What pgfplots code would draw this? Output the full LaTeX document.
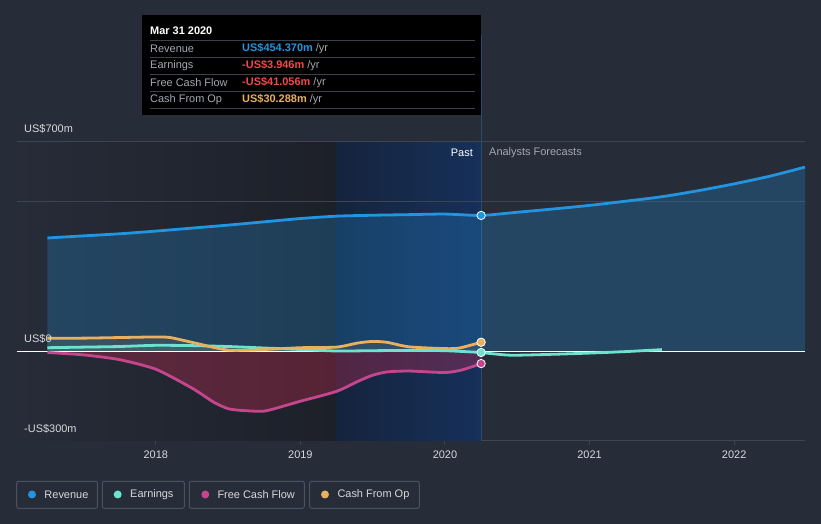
\documentclass[border=0pt]{standalone}
\usepackage{pgfplots}
\pgfplotsset{compat=1.18}
\usepackage{fontspec}
\setmainfont{Liberation Sans}
\definecolor{bg}{HTML}{262C38}
\definecolor{leftdark}{HTML}{1D2029}
\definecolor{pastA}{HTML}{15243D}
\definecolor{pastB}{HTML}{16305A}
\definecolor{rev}{HTML}{2394DF}
\definecolor{earn}{HTML}{6CE3CF}
\definecolor{fcf}{HTML}{C4478E}
\definecolor{cfo}{HTML}{E8B160}
\definecolor{neg}{HTML}{F04A4A}
\definecolor{gridc}{HTML}{3E4552}
\definecolor{txt}{HTML}{D6D8DC}
\definecolor{gtxt}{HTML}{A3A8B0}
\definecolor{boxc}{HTML}{4A5160}
\definecolor{vline}{HTML}{2B4A70}
\definecolor{sepc}{HTML}{3C4048}
\pgfplotstableread{
x y
2017.25 379
2017.5 386
2017.75 393
2018.0 402
2018.25 412
2018.5 422
2018.75 433
2019.0 444
2019.25 452
2019.5 455
2019.75 457
2020.0 459
2020.25 454.37
2020.5 465
2020.75 476
2021.0 488
2021.25 502
2021.5 517
2021.75 537
2022.0 560
2022.25 586
2022.49 616
}\rev
\pgfplotstableread{
x y
2017.25 12
2017.5 14
2017.75 16
2018.0 20
2018.25 19
2018.5 16
2018.75 11
2019.0 6
2019.25 1
2019.5 2
2019.75 3
2020.0 2
2020.25 -3.946
}\earnpast
\pgfplotstableread{
x y
2020.25 -3.946
2020.45 -13
2020.75 -10
2021.0 -6
2021.25 -1
2021.5 5.6
}\earnfut
\pgfplotstableread{
x y
2017.25 44
2017.5 44
2017.75 46
2018.0 48
2018.1 46
2018.25 30
2018.5 4
2018.75 6
2019.0 12
2019.25 14
2019.4 28
2019.5 33
2019.6 30
2019.75 15
2020.0 9
2020.1 11
2020.25 30.288
}\cfo
\pgfplotstableread{
x y
2017.25 -4
2017.5 -12
2017.75 -28
2018.0 -60
2018.25 -123
2018.4 -170
2018.5 -192
2018.6 -198
2018.75 -200
2018.9 -181
2019.0 -167
2019.25 -134
2019.4 -100
2019.5 -80
2019.6 -69
2019.75 -66
2020.0 -71
2020.12 -62
2020.25 -41.056
}\fcf
\begin{document}
\begin{tikzpicture}
\fill[bg] (0,0) rectangle (821bp,524bp);
\begin{axis}[at={(17bp,83bp)}, anchor=south west, scale only axis,
  width=788bp, height=299bp,
  xmin=2017.04, xmax=2022.49, ymin=-300, ymax=700,
  axis y line=none, axis x line*=bottom,
  x axis line style={gridc, line width=1bp, -},
  xtick={2018,2019,2020,2021,2022},
  xticklabels={2018,2019,2020,2021,2022},
  tick align=outside, major tick length=4bp,
  tick style={gridc, line width=1bp},
  x tick label style={font=\fontsize{11}{13}\selectfont, text=txt, yshift=-2bp},
  ytick=\empty, clip=false]
 \fill[left color=bg, right color=leftdark] (axis cs:2017.04,-300) rectangle (axis cs:2019.25,700);
 \fill[left color=pastA, right color=pastB] (axis cs:2019.25,-300) rectangle (axis cs:2020.25,700);
 \draw[gridc, line width=1bp] (axis cs:2017.04,700) -- (axis cs:2022.49,700);
 \draw[gridc, line width=1bp] (axis cs:2017.04,502) -- (axis cs:2022.49,502);
 \draw[vline, line width=1bp] (axis cs:2020.25,-300) -- (axis cs:2020.25,1057);
 \addplot[draw=none, fill=rev, fill opacity=0.26, smooth, tension=0.4] table {\rev} \closedcycle;
 \addplot[draw=none, fill=fcf!60!red, fill opacity=0.3, smooth, tension=0.4] table {\fcf} \closedcycle;
 \addplot[draw=none, fill=cfo, fill opacity=0.12, smooth, tension=0.4] table {\cfo} \closedcycle;
 \addplot[draw=none, fill=earn, fill opacity=0.12, smooth, tension=0.4] table {\earnpast} \closedcycle;
 \draw[white, line width=1.2bp] (axis cs:2017.04,0) -- (axis cs:2022.49,0);
 \addplot[rev, line width=2.8bp, smooth, tension=0.4] table {\rev};
 \addplot[earn, line width=2.8bp, smooth, tension=0.4] table {\earnpast};
 \addplot[earn, line width=2.8bp, smooth, tension=0.4] table {\earnfut};
 \addplot[cfo, line width=2.8bp, smooth, tension=0.4] table {\cfo};
 \addplot[fcf, line width=2.8bp, smooth, tension=0.4] table {\fcf};
 \addplot[only marks, mark=*, mark size=4.2bp, mark options={fill=rev, draw=white, line width=0.8bp}] coordinates {(2020.25,454.37)};
 \addplot[only marks, mark=*, mark size=4.2bp, mark options={fill=cfo, draw=white, line width=0.8bp}] coordinates {(2020.25,30.288)};
 \addplot[only marks, mark=*, mark size=4.2bp, mark options={fill=earn, draw=white, line width=0.8bp}] coordinates {(2020.25,-3.946)};
 \addplot[only marks, mark=*, mark size=4.2bp, mark options={fill=fcf, draw=white, line width=0.8bp}] coordinates {(2020.25,-41.056)};
\end{axis}
\begin{scope}[x=1bp, y=-1bp, yshift=524bp]
 \def\fs{\fontsize{11}{13}\selectfont}
 % y labels
 \node[anchor=west, inner sep=0, text=txt, font=\fs] at (24,129) {US\$700m};
 \node[anchor=west, inner sep=0, text=txt, font=\fs] at (24,339) {US\$0};
 \node[anchor=west, inner sep=0, text=txt, font=\fs] at (24,429) {-US\$300m};
 % past / forecast
 \node[anchor=east, inner sep=0, text=white, font=\fs] at (473,153) {Past};
 \node[anchor=west, inner sep=0, text=gtxt, font=\fs] at (489,153) {Analysts Forecasts};
 % tooltip
 \fill[black] (142,15) rectangle (481,115);
 \foreach \yy in {40.3,57.3,74.3,91.3,108.3} {\draw[sepc, line width=0.8bp] (150,\yy) -- (475,\yy);}
 \node[anchor=west, inner sep=0, text=white, font=\fs\bfseries] at (150,31) {Mar 31 2020};
 \node[anchor=west, inner sep=0, text=gtxt, font=\fs] at (150,48.3) {Revenue};
 \node[anchor=west, inner sep=0, text=gtxt, font=\fs] at (150,65.3) {Earnings};
 \node[anchor=west, inner sep=0, text=gtxt, font=\fs] at (150,82.3) {Free Cash Flow};
 \node[anchor=west, inner sep=0, text=gtxt, font=\fs] at (150,99.3) {Cash From Op};
 \node[anchor=west, inner sep=0, font=\fs] at (242,48.3) {\textcolor{rev}{\bfseries US\$454.370m} \textcolor{gtxt}{/yr}};
 \node[anchor=west, inner sep=0, font=\fs] at (242,65.3) {\textcolor{neg}{\bfseries -US\$3.946m} \textcolor{gtxt}{/yr}};
 \node[anchor=west, inner sep=0, font=\fs] at (242,82.3) {\textcolor{neg}{\bfseries -US\$41.056m} \textcolor{gtxt}{/yr}};
 \node[anchor=west, inner sep=0, font=\fs] at (242,99.3) {\textcolor{cfo}{\bfseries US\$30.288m} \textcolor{gtxt}{/yr}};
 % legend
 \draw[boxc, line width=1bp, rounded corners=2bp] (16.7,481.3) rectangle (97.3,508.3);
 \draw[boxc, line width=1bp, rounded corners=2bp] (102.3,481.3) rectangle (184.3,508.3);
 \draw[boxc, line width=1bp, rounded corners=2bp] (189.3,481.3) rectangle (304.3,508.3);
 \draw[boxc, line width=1bp, rounded corners=2bp] (309.7,481.3) rectangle (419.3,508.3);
 \fill[rev] (32,494.5) circle (4);
 \fill[earn] (117.7,494.5) circle (4);
 \fill[fcf] (205.3,494.5) circle (4);
 \fill[cfo] (325,494.5) circle (4);
 \node[anchor=west, inner sep=0, text=txt, font=\fs] at (44.3,494.5) {Revenue};
 \node[anchor=west, inner sep=0, text=txt, font=\fs] at (130,494.5) {Earnings};
 \node[anchor=west, inner sep=0, text=txt, font=\fs] at (217.3,494.5) {Free Cash Flow};
 \node[anchor=west, inner sep=0, text=txt, font=\fs] at (337.3,494.5) {Cash From Op};
\end{scope}
\end{tikzpicture}
\end{document}
